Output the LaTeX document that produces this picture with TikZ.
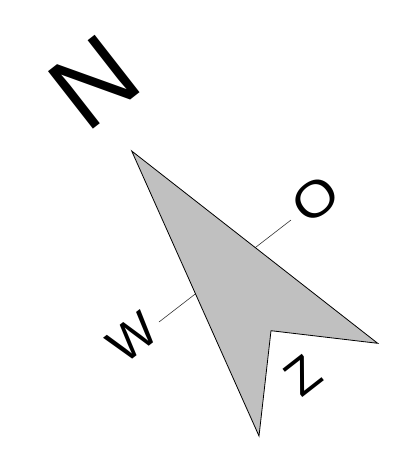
\documentclass[tikz,border=0pt]{standalone}
\usepackage{fontspec}
\setmainfont{Liberation Sans}
\definecolor{arrowgray}{RGB}{192,192,192}
\begin{document}
\begin{tikzpicture}[x=1pt,y=-1pt,
  lbl/.style={inner sep=0pt, rotate=38, font=\fontsize{50}{50}\selectfont},
  biglbl/.style={inner sep=0pt, rotate=38, font=\fontsize{106}{106}\selectfont},
  axisline/.style={line width=0.6pt, black!80},
  arrowshape/.style={fill=arrowgray, draw=black, line width=0.8pt, line join=miter}]
\useasboundingbox (0,0) rectangle (411,451);
\coordinate (w) at (159,322);
\coordinate (e) at (291,220);
\draw[axisline] (w) -- (e);
\coordinate (tip) at (131.7,151);
\coordinate (wing) at (377.7,343.3);
\coordinate (notch) at (271,330.7);
\coordinate (tail) at (259,436);
\draw[arrowshape] (tip) -- (wing) -- (notch) -- (tail) -- cycle;
\node[biglbl] (N) at (94.6,81.7) {N};
\node[lbl, xscale=1.15] (O) at (315.7,199.3) {O};
\node[lbl] (W) at (133,337) {W};
\node[lbl] (Z) at (302.5,375.8) {Z};
\end{tikzpicture}
\end{document}
